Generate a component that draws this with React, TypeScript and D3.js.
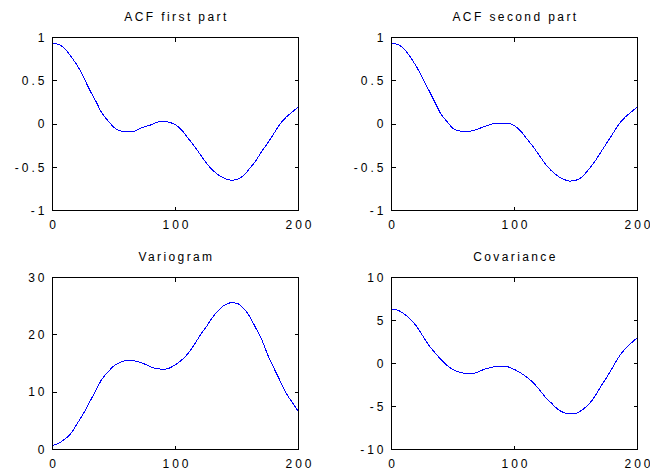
import React from "react";
import * as d3 from "d3";

const lags = [0,5,10,15,20,25,30,35,40,45,50,55,60,65,70,75,80,85,90,95,100,105,110,115,120,125,130,135,140,145,150,155,160,165,170,175,180,185,190,195,200];

const acfFirst = [0.93,0.92,0.87,0.78,0.68,0.55,0.40,0.27,0.13,0.04,-0.04,-0.08,-0.09,-0.09,-0.06,-0.03,-0.01,0.02,0.03,0.02,-0.01,-0.07,-0.16,-0.25,-0.35,-0.45,-0.53,-0.59,-0.63,-0.65,-0.64,-0.60,-0.52,-0.43,-0.32,-0.22,-0.11,0.00,0.08,0.14,0.20];

const acfSecond = [0.93,0.92,0.87,0.78,0.67,0.54,0.40,0.26,0.12,0.03,-0.05,-0.08,-0.09,-0.08,-0.06,-0.03,-0.01,0.01,0.01,0.01,-0.02,-0.08,-0.17,-0.26,-0.36,-0.46,-0.54,-0.60,-0.64,-0.66,-0.65,-0.61,-0.53,-0.44,-0.33,-0.22,-0.11,0.00,0.08,0.14,0.20];

const variogram = [0.7,1.1,1.8,2.8,4.5,6.2,8.2,10.2,12.2,13.5,14.6,15.2,15.5,15.5,15.3,14.9,14.4,14.1,14.0,14.2,14.8,15.6,16.7,18.2,19.9,21.4,23.0,24.3,25.2,25.6,25.5,24.7,23.3,21.3,19.2,16.5,14.2,12.0,9.8,8.2,6.6];

const covariance = [6.3,6.2,5.8,5.2,4.4,3.3,2.2,1.3,0.5,-0.2,-0.7,-1.0,-1.15,-1.2,-1.0,-0.7,-0.5,-0.35,-0.3,-0.4,-0.7,-1.1,-1.6,-2.2,-3.0,-3.9,-4.6,-5.3,-5.7,-5.85,-5.8,-5.4,-4.8,-3.9,-2.7,-1.6,-0.4,0.8,1.7,2.4,3.0];

const xTicks = [0, 100, 200];
const acfTicks = [-1, -0.5, 0, 0.5, 1];
const varTicks = [0, 10, 20, 30];
const covTicks = [-10, -5, 0, 5, 10];

const titles = ["ACF first part", "ACF second part", "Variogram", "Covariance"];

type PanelProps = {
  title: string;
  values: number[];
  yTicks: number[];
  left: number;
  top: number;
  width: number;
  height: number;
};

const font = "Arial, 'Liberation Sans', Helvetica, sans-serif";

function Panel({ title, values, yTicks, left, top, width, height }: PanelProps) {
  const x = d3.scaleLinear().domain([0, 200]).range([left, left + width]);
  const y = d3
    .scaleLinear()
    .domain([yTicks[0], yTicks[yTicks.length - 1]])
    .range([top + height, top]);
  const line = d3
    .line<number>()
    .x((_, i) => x(lags[i]))
    .y((d) => y(d))
    .curve(d3.curveMonotoneX);
  const tl = 4;
  return (
    <g>
      <text
        x={left + width / 2 + 1}
        y={top - 16.5}
        textAnchor="middle"
        fontFamily={font}
        fontSize={12}
        letterSpacing={2.4}
        fill="#000"
      >
        {title}
      </text>
      <path d={line(values) || ""} fill="none" stroke="#0000ff" strokeWidth={1} />
      <rect
        x={left}
        y={top}
        width={width}
        height={height}
        fill="none"
        stroke="#000"
        strokeWidth={1}
      />
      {xTicks.map((t) => (
        <g key={"x" + t}>
          <line x1={x(t)} x2={x(t)} y1={top + height} y2={top + height - tl} stroke="#000" />
          <line x1={x(t)} x2={x(t)} y1={top} y2={top + tl} stroke="#000" />
          <text
            x={x(t) + 1.5}
            y={top + height + 18}
            textAnchor="middle"
            fontFamily={font}
            fontSize={12}
            letterSpacing={3}
            fill="#000"
          >
            {String(t)}
          </text>
        </g>
      ))}
      {yTicks.map((t) => (
        <g key={"y" + t}>
          <line x1={left} x2={left + tl} y1={y(t)} y2={y(t)} stroke="#000" />
          <line x1={left + width} x2={left + width - tl} y1={y(t)} y2={y(t)} stroke="#000" />
          <text
            x={left - 5}
            y={y(t)}
            dy="0.36em"
            textAnchor="end"
            fontFamily={font}
            fontSize={12}
            letterSpacing={3}
            fill="#000"
          >
            {String(t)}
          </text>
        </g>
      ))}
    </g>
  );
}

export default function App() {
  const w = 246;
  const topH = 173;
  const botH = 172;
  return (
    <svg
      width={650}
      height={475}
      style={{ position: "absolute", left: 0, top: 0, background: "#fff" }}
    >
      <rect x={0} y={0} width={650} height={475} fill="#fff" />
      <g shapeRendering="crispEdges">
        <Panel title={titles[0]} values={acfFirst} yTicks={acfTicks} left={52.5} top={37.5} width={w} height={topH} />
        <Panel title={titles[1]} values={acfSecond} yTicks={acfTicks} left={391.5} top={37.5} width={w} height={topH} />
        <Panel title={titles[2]} values={variogram} yTicks={varTicks} left={52.5} top={277.5} width={w} height={botH} />
        <Panel title={titles[3]} values={covariance} yTicks={covTicks} left={391.5} top={277.5} width={w} height={botH} />
      </g>
    </svg>
  );
}
